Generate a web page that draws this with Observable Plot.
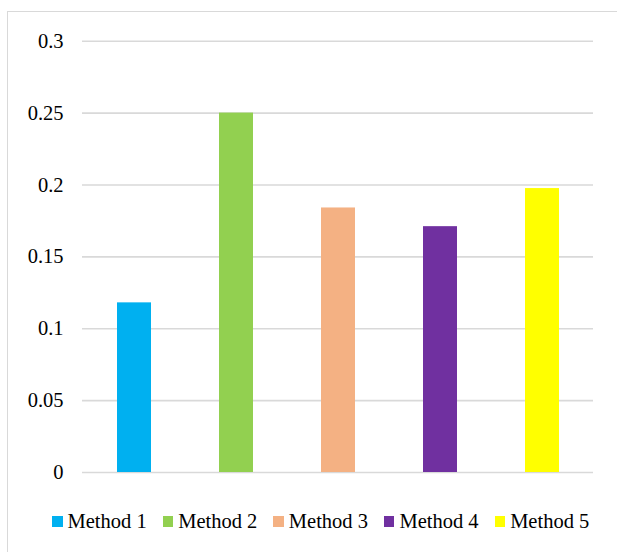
<!DOCTYPE html>
<html>
<head>
<meta charset="utf-8">
<script src="https://cdn.jsdelivr.net/npm/d3@7"></script>
<script src="https://cdn.jsdelivr.net/npm/@observablehq/plot@0.6"></script>
<style>
  html, body { margin: 0; padding: 0; background: #fff; overflow: hidden; }
  body { width: 617px; height: 552px; position: relative; font-family: "Tinos", "Liberation Serif", "DejaVu Serif", "Times New Roman", serif; }
  #frame { position: absolute; left: 7px; top: 11px; width: 700px; height: 700px;
           border-left: 1.5px solid #d9d9d9; border-top: 1.5px solid #d9d9d9; box-sizing: border-box; }
  #chart { position: absolute; left: 0; top: 0; }
  #legend { position: absolute; left: 52px; top: 511px; display: flex; align-items: center;
            font-size: 20.5px; line-height: 20px; color: #000; white-space: nowrap; }
  .item { display: flex; align-items: center; margin-right: 16px; }
  .sw { width: 10.5px; height: 10.5px; margin-right: 5px; margin-top: 1px; }
  #chart svg text { font-family: "Tinos", "Liberation Serif", "DejaVu Serif", "Times New Roman", serif; }
</style>
</head>
<body>
<div id="frame"></div>
<div id="chart"></div>
<div id="legend"></div>
<script>
const methods = ["Method 1", "Method 2", "Method 3", "Method 4", "Method 5"];
const values = [0.118, 0.25, 0.184, 0.171, 0.1975];
const colors = ["#00B0F0", "#92D050", "#F4B183", "#7030A0", "#FFFF00"];
const yTicks = [0, 0.05, 0.1, 0.15, 0.2, 0.25, 0.3];
const yTickLabels = ["0", "0.05", "0.1", "0.15", "0.2", "0.25", "0.3"];

const data = methods.map((m, i) => ({method: m, value: values[i]}));

const chart = Plot.plot({
  width: 617,
  height: 480,
  marginLeft: 82,
  marginRight: 24,
  marginTop: 40.7,
  marginBottom: 8,
  style: {fontFamily: "Tinos, 'Liberation Serif', 'DejaVu Serif', 'Times New Roman', serif", fontSize: "20.5px", color: "#000", background: "transparent", overflow: "visible"},
  x: {domain: methods, paddingInner: 0.67, paddingOuter: 0.335, axis: null},
  y: {domain: [0, 0.3], ticks: yTicks, tickFormat: d => yTickLabels[yTicks.indexOf(d)], tickSize: 0, tickPadding: 19, label: null},
  color: {domain: methods, range: colors},
  marks: [
    Plot.ruleY(yTicks, {stroke: "#d9d9d9", strokeWidth: 1.6, strokeOpacity: 1}),
    Plot.barY(data, {x: "method", y: "value", fill: "method"})
  ]
});
document.getElementById("chart").appendChild(chart);

const legend = document.getElementById("legend");
methods.forEach((m, i) => {
  const item = document.createElement("div");
  item.className = "item";
  const sw = document.createElement("div");
  sw.className = "sw";
  sw.style.background = colors[i];
  const label = document.createElement("span");
  label.textContent = m;
  item.appendChild(sw);
  item.appendChild(label);
  legend.appendChild(item);
});
</script>
</body>
</html>
